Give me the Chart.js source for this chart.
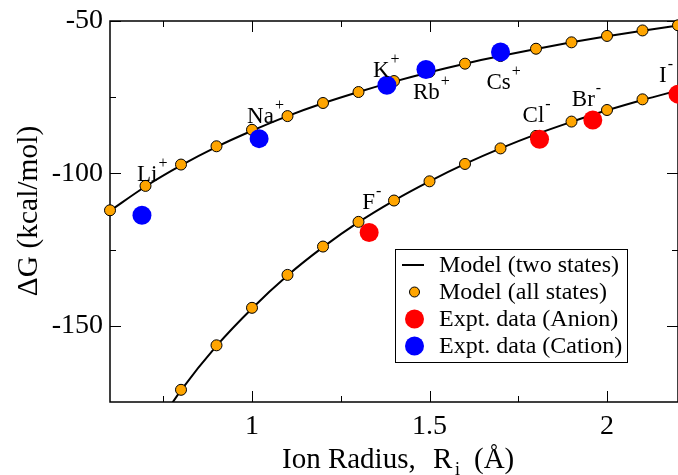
<!DOCTYPE html>
<html>
<head>
<meta charset="utf-8">
<script src="https://cdn.jsdelivr.net/npm/chart.js@4.4.1/dist/chart.umd.min.js"></script>
<style>
  body { margin: 0; background: #fff; }
</style>
</head>
<body>
<canvas id="ionChart" width="678" height="475"></canvas>
<script>
// model (all states) points
const cationRadii = [0.6, 0.7, 0.8, 0.9, 1.0, 1.1, 1.2, 1.3, 1.4, 1.5, 1.6, 1.7, 1.8, 1.9, 2.0, 2.1, 2.2];
const cationModel = [-112.1, -104.1, -97.1, -91.1, -85.7, -81.2, -76.9, -73.3, -69.7, -66.7, -64.0, -61.5, -59.1, -57.0, -54.9, -53.1, -51.4];
const anionRadii = [0.8, 0.9, 1.0, 1.1, 1.2, 1.3, 1.4, 1.5, 1.6, 1.7, 1.8, 1.9, 2.0, 2.1, 2.2];
const anionModel = [-171.0, -156.4, -144.1, -133.3, -124.0, -115.9, -108.9, -102.6, -96.9, -91.8, -87.7, -83.0, -79.2, -75.7, -73.0];

// model (two states) curves
const cationLineRadii = [0.6, 0.7, 0.8, 0.9, 1.0, 1.1, 1.2, 1.3, 1.4, 1.5, 1.6, 1.7, 1.8, 1.9, 2.0, 2.1, 2.2];
const cationLine = [-112.3, -104.3, -97.4, -91.3, -86.0, -81.2, -77.0, -73.3, -69.9, -66.8, -64.0, -61.5, -59.2, -57.0, -55.0, -53.2, -51.5];
const anionLineRadii = [0.7, 0.8, 0.9, 1.0, 1.1, 1.2, 1.3, 1.4, 1.5, 1.6, 1.7, 1.8, 1.9, 2.0, 2.1, 2.2];
const anionLine = [-188.5, -171.2, -156.6, -144.3, -133.5, -124.2, -116.0, -108.9, -102.6, -96.9, -91.8, -87.2, -83.1, -79.3, -75.9, -72.8];

// experiment
const cationIons = ['Li', 'Na', 'K', 'Rb', 'Cs'];
const cationExptR = [0.69, 1.02, 1.38, 1.49, 1.70];
const cationExpt = [-113.7, -88.6, -71.1, -65.9, -60.2];
const anionIons = ['F', 'Cl', 'Br', 'I'];
const anionExptR = [1.33, 1.81, 1.96, 2.2];
const anionExpt = [-119.4, -88.8, -82.5, -74.0];

// axes
const xTickLabels = [1, 1.5, 2];
const xMinorTicks = [0.75, 1.25, 1.75];
const yTickLabels = [-150, -100, -50];
const yMinorTicks = [-125, -75];

const serif = "'Liberation Serif', 'Times New Roman', serif";

function pts(xs, ys) {
    return xs.map((x, i) => ({ x: x, y: ys[i] }));
}

// label offsets (px) from the experimental point to the text
const labelOffsets = {
    Li: [-5, -34], Na: [-12, -16], K: [-14, -8], Rb: [-13, 30], Cs: [-14, 37],
    F: [-7, -24], Cl: [-17, -17], Br: [-21, -14], I: [-19, -12]
};

const overlay = {
    id: 'overlay',
    beforeDatasetsDraw(chart) {
        const ctx = chart.ctx;
        const a = chart.chartArea;
        const xs = chart.scales.x, ys = chart.scales.y;
        ctx.save();
        ctx.strokeStyle = '#000';
        ctx.lineWidth = 1.5;
        ctx.strokeRect(a.left, a.top, a.right - a.left, a.bottom - a.top);
        ctx.lineWidth = 1;
        ctx.beginPath();
        const tickX = (vals, len) => vals.forEach(v => {
            const p = Math.round(xs.getPixelForValue(v)) + 0.5;
            ctx.moveTo(p, a.bottom); ctx.lineTo(p, a.bottom - len);
            ctx.moveTo(p, a.top); ctx.lineTo(p, a.top + len);
        });
        const tickY = (vals, len) => vals.forEach(v => {
            const p = Math.round(ys.getPixelForValue(v)) + 0.5;
            ctx.moveTo(a.left, p); ctx.lineTo(a.left + len, p);
            ctx.moveTo(a.right, p); ctx.lineTo(a.right - len, p);
        });
        tickX(xTickLabels, 11); tickX(xMinorTicks, 6);
        tickY(yTickLabels, 11); tickY(yMinorTicks, 6);
        ctx.stroke();
        ctx.restore();
    },
    afterDraw(chart) {
        const ctx = chart.ctx;
        const xs = chart.scales.x, ys = chart.scales.y;
        ctx.save();
        ctx.fillStyle = '#000';
        ctx.textBaseline = 'alphabetic';
        ctx.textAlign = 'left';

        // ion labels
        const drawIon = (name, sign, r, g) => {
            const off = labelOffsets[name];
            const x = xs.getPixelForValue(r) + off[0];
            const y = ys.getPixelForValue(g) + off[1];
            ctx.font = '23px ' + serif;
            ctx.fillText(name, x, y);
            const w = ctx.measureText(name).width;
            ctx.font = '16px ' + serif;
            ctx.fillText(sign, x + w + 1, y - 13);
        };
        cationIons.forEach((n, i) => drawIon(n, '+', cationExptR[i], cationExpt[i]));
        anionIons.forEach((n, i) => drawIon(n, '-', anionExptR[i], anionExpt[i]));

        // x axis title, with subscript i
        ctx.font = '29px ' + serif;
        ctx.fillText('Ion Radius,', 282, 468);
        ctx.fillText('R', 433, 468);
        ctx.fillText('(\u00c5)', 474, 468);
        ctx.font = '18px ' + serif;
        ctx.fillText('i', 455, 475);

        // y axis title
        ctx.save();
        ctx.font = '29.5px ' + serif;
        ctx.translate(37, 211);
        ctx.rotate(-Math.PI / 2);
        ctx.textAlign = 'center';
        ctx.fillText('\u0394G (kcal/mol)', 0, 0);
        ctx.restore();

        // legend
        const ds = chart.data.datasets;
        const lx = 395.5, ly = 249.5, lw = 232, lh = 113;
        ctx.fillStyle = '#fff';
        ctx.fillRect(lx, ly, lw, lh);
        ctx.strokeStyle = '#000';
        ctx.lineWidth = 1;
        ctx.strokeRect(lx, ly, lw, lh);
        const rows = [
            { label: ds[2].label, kind: 'line' },
            { label: ds[1].label, kind: 'dot', r: 5, fill: ds[1].backgroundColor, border: true },
            { label: ds[0].label, kind: 'dot', r: 9.5, fill: ds[0].backgroundColor },
            { label: ds[4].label, kind: 'dot', r: 9.5, fill: ds[4].backgroundColor }
        ];
        ctx.font = '24px ' + serif;
        ctx.textBaseline = 'middle';
        rows.forEach((row, i) => {
            const cy = 265 + i * 27;
            if (row.kind === 'line') {
                ctx.strokeStyle = '#000';
                ctx.lineWidth = 2;
                ctx.beginPath();
                ctx.moveTo(402, cy); ctx.lineTo(424, cy);
                ctx.stroke();
            } else {
                ctx.beginPath();
                ctx.arc(414.5, cy, row.r, 0, Math.PI * 2);
                ctx.fillStyle = row.fill;
                ctx.fill();
                if (row.border) {
                    ctx.strokeStyle = '#000';
                    ctx.lineWidth = 1;
                    ctx.stroke();
                }
            }
            ctx.fillStyle = '#000';
            ctx.fillText(row.label, 439, cy + 1);
        });
        ctx.restore();
    }
};

const ionChart = new Chart(document.getElementById('ionChart'), {
    type: 'scatter',
    data: {
        datasets: [
            {
                label: 'Expt. data (Anion)',
                data: pts(anionExptR, anionExpt),
                backgroundColor: '#ff0000',
                borderWidth: 0,
                pointRadius: 9.5,
                order: 0,
                clip: false
            },
            {
                label: 'Model (all states)',
                data: pts(anionRadii, anionModel).concat(pts(cationRadii, cationModel)),
                backgroundColor: '#ffa500',
                borderColor: '#000',
                borderWidth: 1,
                pointRadius: 5.5,
                order: 1,
                clip: false
            },
            {
                label: 'Model (two states)',
                type: 'line',
                data: pts(cationLineRadii, cationLine),
                borderColor: '#000',
                borderWidth: 2,
                pointRadius: 0,
                cubicInterpolationMode: 'monotone',
                fill: false,
                order: 2
            },
            {
                label: 'Model (two states)',
                type: 'line',
                data: pts(anionLineRadii, anionLine),
                borderColor: '#000',
                borderWidth: 2,
                pointRadius: 0,
                cubicInterpolationMode: 'monotone',
                fill: false,
                order: 2
            },
            {
                label: 'Expt. data (Cation)',
                data: pts(cationExptR, cationExpt),
                backgroundColor: '#0000ff',
                borderWidth: 0,
                pointRadius: 9.5,
                order: 0,
                clip: false
            }
        ]
    },
    options: {
        responsive: false,
        animation: false,
        layout: { autoPadding: false, padding: { top: 21, right: 0, left: 0, bottom: 0 } },
        plugins: {
            legend: { display: false },
            tooltip: { enabled: false }
        },
        scales: {
            x: {
                type: 'linear',
                min: 0.6,
                max: 2.2,
                afterBuildTicks: s => { s.ticks = xTickLabels.map(v => ({ value: v })); },
                afterFit: s => { s.height = 73; s.paddingLeft = 0; s.paddingRight = 0; },
                grid: { display: false, drawTicks: false, tickLength: 0 },
                border: { display: false },
                ticks: {
                    color: '#000',
                    font: { family: serif, size: 28 },
                    padding: 8,
                    maxRotation: 0,
                    callback: v => String(v)
                }
            },
            y: {
                type: 'linear',
                min: -175,
                max: -50,
                afterBuildTicks: s => { s.ticks = yTickLabels.map(v => ({ value: v })); },
                afterFit: s => { s.width = 110; s.paddingTop = 0; s.paddingBottom = 0; },
                grid: { display: false, drawTicks: false, tickLength: 0 },
                border: { display: false },
                ticks: {
                    color: '#000',
                    font: { family: serif, size: 28 },
                    padding: 7,
                    callback: v => String(v)
                }
            }
        }
    },
    plugins: [overlay]
});
</script>
</body>
</html>
